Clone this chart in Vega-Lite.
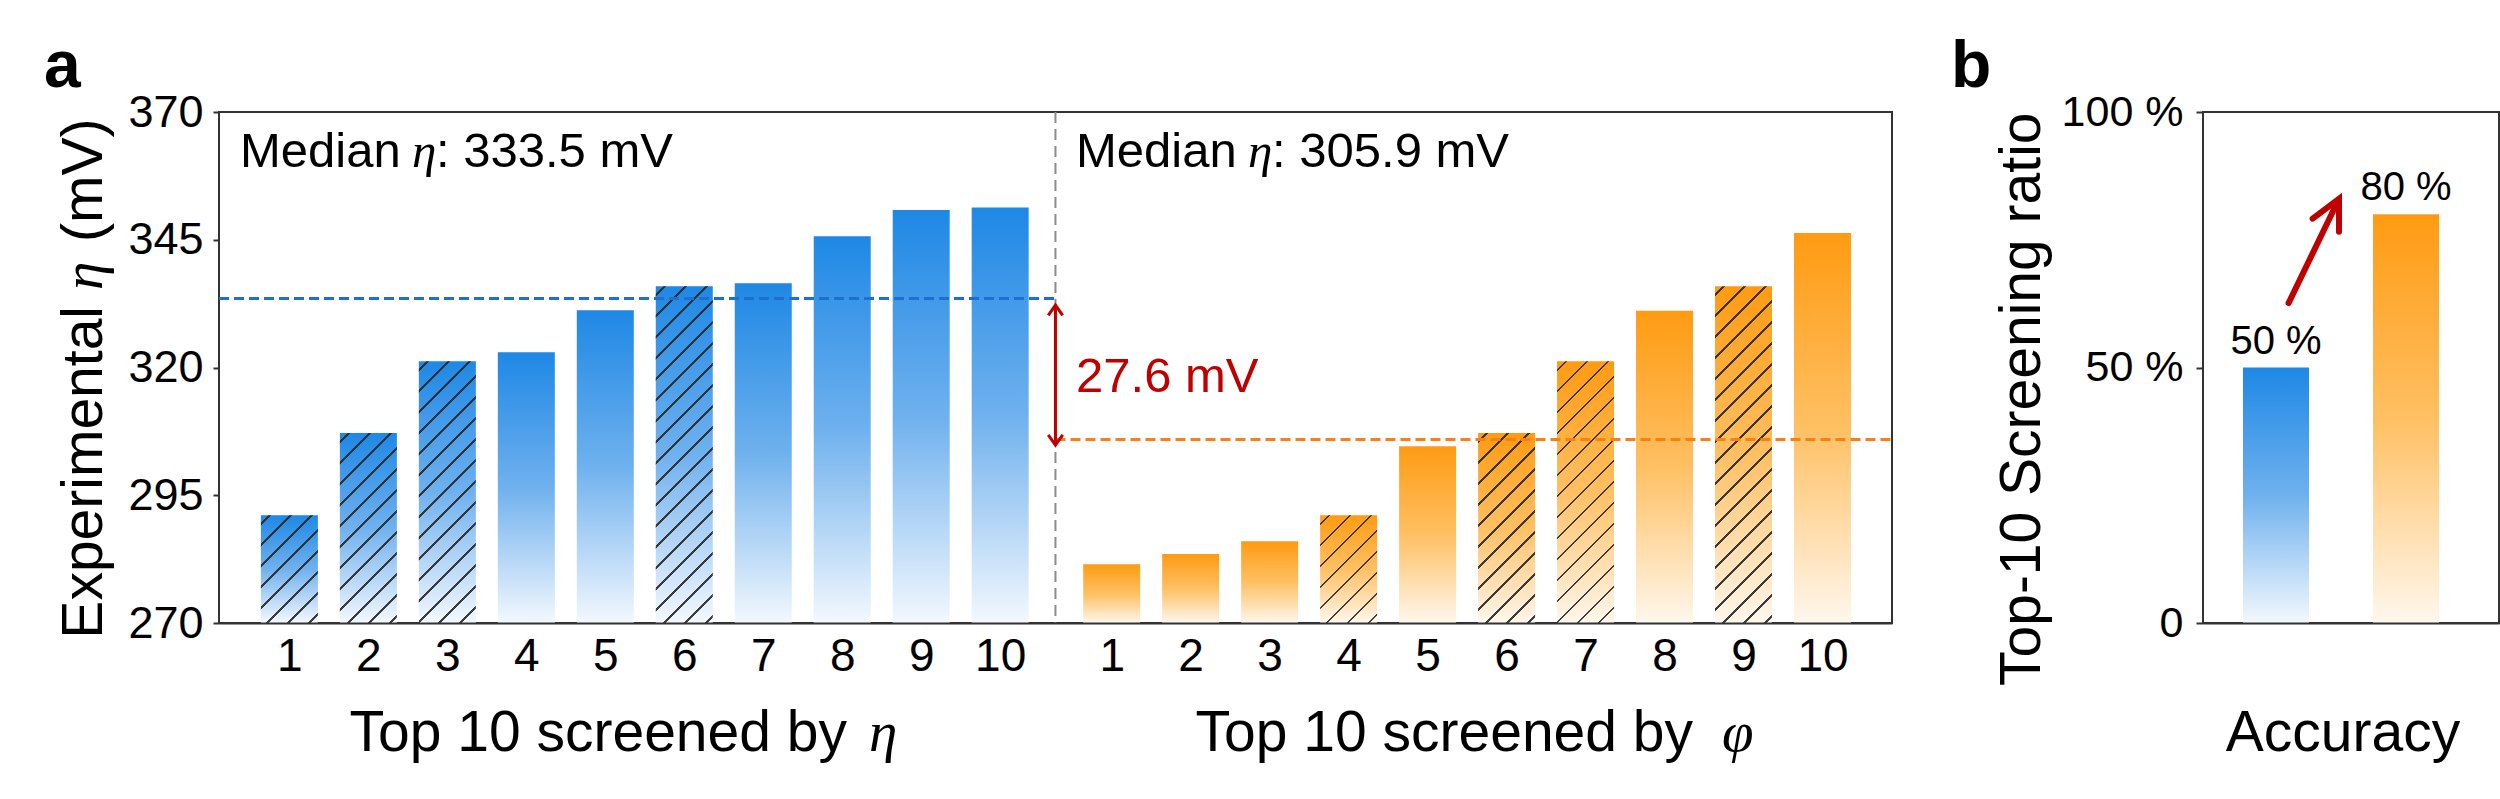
{
  "$schema": "https://vega.github.io/schema/vega-lite/v6.json",
  "background": "white",
  "padding": {"left": 42, "top": 33, "right": 0, "bottom": 0},
  "spacing": 54,
  "config": {
    "font": "Liberation Sans",
    "view": {"stroke": "#333333", "strokeWidth": 2},
    "axis": {"labelFont": "Liberation Sans", "titleFont": "Liberation Sans", "labelColor": "#000000", "titleColor": "#000000", "grid": false, "titleFontWeight": "normal"},
    "text": {"font": "Liberation Sans", "color": "#000000"}
  },
  "hconcat": [
    {
      "width": 1673,
      "height": 511,
      "data": {
        "values": [
          {"screen": "eta", "rank": 1, "eta": 291.1, "overlap": true},
          {"screen": "eta", "rank": 2, "eta": 307.2, "overlap": true},
          {"screen": "eta", "rank": 3, "eta": 321.2, "overlap": true},
          {"screen": "eta", "rank": 4, "eta": 323.0, "overlap": false},
          {"screen": "eta", "rank": 5, "eta": 331.2, "overlap": false},
          {"screen": "eta", "rank": 6, "eta": 335.9, "overlap": true},
          {"screen": "eta", "rank": 7, "eta": 336.5, "overlap": false},
          {"screen": "eta", "rank": 8, "eta": 345.7, "overlap": false},
          {"screen": "eta", "rank": 9, "eta": 350.8, "overlap": false},
          {"screen": "eta", "rank": 10, "eta": 351.3, "overlap": false},
          {"screen": "phi", "rank": 1, "eta": 281.5, "overlap": false},
          {"screen": "phi", "rank": 2, "eta": 283.5, "overlap": false},
          {"screen": "phi", "rank": 3, "eta": 286.0, "overlap": false},
          {"screen": "phi", "rank": 4, "eta": 291.1, "overlap": true},
          {"screen": "phi", "rank": 5, "eta": 304.6, "overlap": false},
          {"screen": "phi", "rank": 6, "eta": 307.2, "overlap": true},
          {"screen": "phi", "rank": 7, "eta": 321.2, "overlap": true},
          {"screen": "phi", "rank": 8, "eta": 331.1, "overlap": false},
          {"screen": "phi", "rank": 9, "eta": 335.9, "overlap": true},
          {"screen": "phi", "rank": 10, "eta": 346.3, "overlap": false}
        ]
      },
      "layer": [
        {
          "transform": [{"filter": "datum.screen === 'eta'"}],
          "encoding": {
            "x": {"field": "rank", "type": "quantitative", "scale": {"domain": [0.172, 21.229], "nice": false, "zero": false},
              "axis": {"orient": "bottom", "values": [1, 2, 3, 4, 5, 6, 7, 8, 9, 10], "format": "d", "ticks": false, "tickSize": 0, "labelPadding": 11, "labelFontSize": 46, "labelFlush": false, "labelOverlap": false, "domain": true, "domainColor": "#333333", "domainWidth": 2, "zindex": 1, "title": null}},
            "y": {"field": "eta", "type": "quantitative", "scale": {"domain": [270, 370], "nice": false, "zero": false},
              "axis": {"orient": "left", "values": [270, 295, 320, 345, 370], "format": "d", "labelFontSize": 45, "tickSize": 6, "tickWidth": 2, "tickColor": "#333333", "labelPadding": 10, "domain": false, "title": null}},
            "y2": {"datum": 270}
          },
          "layer": [
            {"mark": {"type": "bar", "size": 57, "fill": {"gradient": "linear", "x1": 0, "y1": 0, "x2": 0, "y2": 1, "stops": [{"offset": 0, "color": "#1e88e5"}, {"offset": 0.5, "color": "#6fb1ee"}, {"offset": 1, "color": "#f3f8fe"}]}}},
            {"transform": [{"filter": "datum.overlap && datum.eta < 295"}],
             "mark": {"type": "bar", "size": 57, "fill": {"gradient": "linear", "x1": 0, "y1": 0, "x2": 0.6317, "y2": 1.1947, "stops": [
              {"offset": 0, "color": "rgba(40,40,40,0)"},
              {"offset": 0.0469, "color": "rgba(40,40,40,0)"}, {"offset": 0.0469, "color": "rgba(40,40,40,0.9)"}, {"offset": 0.0623, "color": "rgba(40,40,40,0.9)"}, {"offset": 0.0623, "color": "rgba(40,40,40,0)"},
              {"offset": 0.1743, "color": "rgba(40,40,40,0)"}, {"offset": 0.1743, "color": "rgba(40,40,40,0.9)"}, {"offset": 0.1897, "color": "rgba(40,40,40,0.9)"}, {"offset": 0.1897, "color": "rgba(40,40,40,0)"},
              {"offset": 0.3018, "color": "rgba(40,40,40,0)"}, {"offset": 0.3018, "color": "rgba(40,40,40,0.9)"}, {"offset": 0.3172, "color": "rgba(40,40,40,0.9)"}, {"offset": 0.3172, "color": "rgba(40,40,40,0)"},
              {"offset": 0.4292, "color": "rgba(40,40,40,0)"}, {"offset": 0.4292, "color": "rgba(40,40,40,0.9)"}, {"offset": 0.4446, "color": "rgba(40,40,40,0.9)"}, {"offset": 0.4446, "color": "rgba(40,40,40,0)"},
              {"offset": 0.5566, "color": "rgba(40,40,40,0)"}, {"offset": 0.5566, "color": "rgba(40,40,40,0.9)"}, {"offset": 0.5720, "color": "rgba(40,40,40,0.9)"}, {"offset": 0.5720, "color": "rgba(40,40,40,0)"},
              {"offset": 0.6840, "color": "rgba(40,40,40,0)"}, {"offset": 0.6840, "color": "rgba(40,40,40,0.9)"}, {"offset": 0.6995, "color": "rgba(40,40,40,0.9)"}, {"offset": 0.6995, "color": "rgba(40,40,40,0)"},
              {"offset": 0.8115, "color": "rgba(40,40,40,0)"}, {"offset": 0.8115, "color": "rgba(40,40,40,0.9)"}, {"offset": 0.8269, "color": "rgba(40,40,40,0.9)"}, {"offset": 0.8269, "color": "rgba(40,40,40,0)"},
              {"offset": 0.9389, "color": "rgba(40,40,40,0)"}, {"offset": 0.9389, "color": "rgba(40,40,40,0.9)"}, {"offset": 0.9543, "color": "rgba(40,40,40,0.9)"}, {"offset": 0.9543, "color": "rgba(40,40,40,0)"},
              {"offset": 1, "color": "rgba(40,40,40,0)"}]}}},
            {"transform": [{"filter": "datum.overlap && datum.eta > 300 && datum.eta < 310"}],
             "mark": {"type": "bar", "size": 57, "fill": {"gradient": "linear", "x1": 0, "y1": 0, "x2": 0.3576, "y2": 1.1926, "stops": [
              {"offset": 0, "color": "rgba(40,40,40,0)"},
              {"offset": 0.0313, "color": "rgba(40,40,40,0)"}, {"offset": 0.0313, "color": "rgba(40,40,40,0.9)"}, {"offset": 0.0416, "color": "rgba(40,40,40,0.9)"}, {"offset": 0.0416, "color": "rgba(40,40,40,0)"},
              {"offset": 0.1163, "color": "rgba(40,40,40,0)"}, {"offset": 0.1163, "color": "rgba(40,40,40,0.9)"}, {"offset": 0.1266, "color": "rgba(40,40,40,0.9)"}, {"offset": 0.1266, "color": "rgba(40,40,40,0)"},
              {"offset": 0.2013, "color": "rgba(40,40,40,0)"}, {"offset": 0.2013, "color": "rgba(40,40,40,0.9)"}, {"offset": 0.2115, "color": "rgba(40,40,40,0.9)"}, {"offset": 0.2115, "color": "rgba(40,40,40,0)"},
              {"offset": 0.2863, "color": "rgba(40,40,40,0)"}, {"offset": 0.2863, "color": "rgba(40,40,40,0.9)"}, {"offset": 0.2965, "color": "rgba(40,40,40,0.9)"}, {"offset": 0.2965, "color": "rgba(40,40,40,0)"},
              {"offset": 0.3712, "color": "rgba(40,40,40,0)"}, {"offset": 0.3712, "color": "rgba(40,40,40,0.9)"}, {"offset": 0.3815, "color": "rgba(40,40,40,0.9)"}, {"offset": 0.3815, "color": "rgba(40,40,40,0)"},
              {"offset": 0.4562, "color": "rgba(40,40,40,0)"}, {"offset": 0.4562, "color": "rgba(40,40,40,0.9)"}, {"offset": 0.4665, "color": "rgba(40,40,40,0.9)"}, {"offset": 0.4665, "color": "rgba(40,40,40,0)"},
              {"offset": 0.5412, "color": "rgba(40,40,40,0)"}, {"offset": 0.5412, "color": "rgba(40,40,40,0.9)"}, {"offset": 0.5515, "color": "rgba(40,40,40,0.9)"}, {"offset": 0.5515, "color": "rgba(40,40,40,0)"},
              {"offset": 0.6262, "color": "rgba(40,40,40,0)"}, {"offset": 0.6262, "color": "rgba(40,40,40,0.9)"}, {"offset": 0.6365, "color": "rgba(40,40,40,0.9)"}, {"offset": 0.6365, "color": "rgba(40,40,40,0)"},
              {"offset": 0.7112, "color": "rgba(40,40,40,0)"}, {"offset": 0.7112, "color": "rgba(40,40,40,0.9)"}, {"offset": 0.7215, "color": "rgba(40,40,40,0.9)"}, {"offset": 0.7215, "color": "rgba(40,40,40,0)"},
              {"offset": 0.7962, "color": "rgba(40,40,40,0)"}, {"offset": 0.7962, "color": "rgba(40,40,40,0.9)"}, {"offset": 0.8065, "color": "rgba(40,40,40,0.9)"}, {"offset": 0.8065, "color": "rgba(40,40,40,0)"},
              {"offset": 0.8812, "color": "rgba(40,40,40,0)"}, {"offset": 0.8812, "color": "rgba(40,40,40,0.9)"}, {"offset": 0.8914, "color": "rgba(40,40,40,0.9)"}, {"offset": 0.8914, "color": "rgba(40,40,40,0)"},
              {"offset": 0.9662, "color": "rgba(40,40,40,0)"}, {"offset": 0.9662, "color": "rgba(40,40,40,0.9)"}, {"offset": 0.9764, "color": "rgba(40,40,40,0.9)"}, {"offset": 0.9764, "color": "rgba(40,40,40,0)"},
              {"offset": 1, "color": "rgba(40,40,40,0)"}]}}},
            {"transform": [{"filter": "datum.overlap && datum.eta > 315 && datum.eta < 325"}],
             "mark": {"type": "bar", "size": 57, "fill": {"gradient": "linear", "x1": 0, "y1": 0, "x2": 0.2533, "y2": 1.1627, "stops": [
              {"offset": 0, "color": "rgba(40,40,40,0)"},
              {"offset": 0.0243, "color": "rgba(40,40,40,0)"}, {"offset": 0.0243, "color": "rgba(40,40,40,0.9)"}, {"offset": 0.0322, "color": "rgba(40,40,40,0.9)"}, {"offset": 0.0322, "color": "rgba(40,40,40,0)"},
              {"offset": 0.0902, "color": "rgba(40,40,40,0)"}, {"offset": 0.0902, "color": "rgba(40,40,40,0.9)"}, {"offset": 0.0981, "color": "rgba(40,40,40,0.9)"}, {"offset": 0.0981, "color": "rgba(40,40,40,0)"},
              {"offset": 0.1561, "color": "rgba(40,40,40,0)"}, {"offset": 0.1561, "color": "rgba(40,40,40,0.9)"}, {"offset": 0.1640, "color": "rgba(40,40,40,0.9)"}, {"offset": 0.1640, "color": "rgba(40,40,40,0)"},
              {"offset": 0.2220, "color": "rgba(40,40,40,0)"}, {"offset": 0.2220, "color": "rgba(40,40,40,0.9)"}, {"offset": 0.2300, "color": "rgba(40,40,40,0.9)"}, {"offset": 0.2300, "color": "rgba(40,40,40,0)"},
              {"offset": 0.2879, "color": "rgba(40,40,40,0)"}, {"offset": 0.2879, "color": "rgba(40,40,40,0.9)"}, {"offset": 0.2959, "color": "rgba(40,40,40,0.9)"}, {"offset": 0.2959, "color": "rgba(40,40,40,0)"},
              {"offset": 0.3538, "color": "rgba(40,40,40,0)"}, {"offset": 0.3538, "color": "rgba(40,40,40,0.9)"}, {"offset": 0.3618, "color": "rgba(40,40,40,0.9)"}, {"offset": 0.3618, "color": "rgba(40,40,40,0)"},
              {"offset": 0.4197, "color": "rgba(40,40,40,0)"}, {"offset": 0.4197, "color": "rgba(40,40,40,0.9)"}, {"offset": 0.4277, "color": "rgba(40,40,40,0.9)"}, {"offset": 0.4277, "color": "rgba(40,40,40,0)"},
              {"offset": 0.4856, "color": "rgba(40,40,40,0)"}, {"offset": 0.4856, "color": "rgba(40,40,40,0.9)"}, {"offset": 0.4936, "color": "rgba(40,40,40,0.9)"}, {"offset": 0.4936, "color": "rgba(40,40,40,0)"},
              {"offset": 0.5515, "color": "rgba(40,40,40,0)"}, {"offset": 0.5515, "color": "rgba(40,40,40,0.9)"}, {"offset": 0.5595, "color": "rgba(40,40,40,0.9)"}, {"offset": 0.5595, "color": "rgba(40,40,40,0)"},
              {"offset": 0.6174, "color": "rgba(40,40,40,0)"}, {"offset": 0.6174, "color": "rgba(40,40,40,0.9)"}, {"offset": 0.6254, "color": "rgba(40,40,40,0.9)"}, {"offset": 0.6254, "color": "rgba(40,40,40,0)"},
              {"offset": 0.6833, "color": "rgba(40,40,40,0)"}, {"offset": 0.6833, "color": "rgba(40,40,40,0.9)"}, {"offset": 0.6913, "color": "rgba(40,40,40,0.9)"}, {"offset": 0.6913, "color": "rgba(40,40,40,0)"},
              {"offset": 0.7492, "color": "rgba(40,40,40,0)"}, {"offset": 0.7492, "color": "rgba(40,40,40,0.9)"}, {"offset": 0.7572, "color": "rgba(40,40,40,0.9)"}, {"offset": 0.7572, "color": "rgba(40,40,40,0)"},
              {"offset": 0.8151, "color": "rgba(40,40,40,0)"}, {"offset": 0.8151, "color": "rgba(40,40,40,0.9)"}, {"offset": 0.8231, "color": "rgba(40,40,40,0.9)"}, {"offset": 0.8231, "color": "rgba(40,40,40,0)"},
              {"offset": 0.8810, "color": "rgba(40,40,40,0)"}, {"offset": 0.8810, "color": "rgba(40,40,40,0.9)"}, {"offset": 0.8890, "color": "rgba(40,40,40,0.9)"}, {"offset": 0.8890, "color": "rgba(40,40,40,0)"},
              {"offset": 0.9470, "color": "rgba(40,40,40,0)"}, {"offset": 0.9470, "color": "rgba(40,40,40,0.9)"}, {"offset": 0.9549, "color": "rgba(40,40,40,0.9)"}, {"offset": 0.9549, "color": "rgba(40,40,40,0)"},
              {"offset": 1, "color": "rgba(40,40,40,0)"}]}}},
            {"transform": [{"filter": "datum.overlap && datum.eta > 330"}],
             "mark": {"type": "bar", "size": 57, "fill": {"gradient": "linear", "x1": 0, "y1": 0, "x2": 0.1924, "y2": 1.1367, "stops": [
              {"offset": 0, "color": "rgba(40,40,40,0)"},
              {"offset": 0.0196, "color": "rgba(40,40,40,0)"}, {"offset": 0.0196, "color": "rgba(40,40,40,0.9)"}, {"offset": 0.0261, "color": "rgba(40,40,40,0.9)"}, {"offset": 0.0261, "color": "rgba(40,40,40,0)"},
              {"offset": 0.0730, "color": "rgba(40,40,40,0)"}, {"offset": 0.0730, "color": "rgba(40,40,40,0.9)"}, {"offset": 0.0794, "color": "rgba(40,40,40,0.9)"}, {"offset": 0.0794, "color": "rgba(40,40,40,0)"},
              {"offset": 0.1263, "color": "rgba(40,40,40,0)"}, {"offset": 0.1263, "color": "rgba(40,40,40,0.9)"}, {"offset": 0.1327, "color": "rgba(40,40,40,0.9)"}, {"offset": 0.1327, "color": "rgba(40,40,40,0)"},
              {"offset": 0.1796, "color": "rgba(40,40,40,0)"}, {"offset": 0.1796, "color": "rgba(40,40,40,0.9)"}, {"offset": 0.1861, "color": "rgba(40,40,40,0.9)"}, {"offset": 0.1861, "color": "rgba(40,40,40,0)"},
              {"offset": 0.2330, "color": "rgba(40,40,40,0)"}, {"offset": 0.2330, "color": "rgba(40,40,40,0.9)"}, {"offset": 0.2394, "color": "rgba(40,40,40,0.9)"}, {"offset": 0.2394, "color": "rgba(40,40,40,0)"},
              {"offset": 0.2863, "color": "rgba(40,40,40,0)"}, {"offset": 0.2863, "color": "rgba(40,40,40,0.9)"}, {"offset": 0.2927, "color": "rgba(40,40,40,0.9)"}, {"offset": 0.2927, "color": "rgba(40,40,40,0)"},
              {"offset": 0.3396, "color": "rgba(40,40,40,0)"}, {"offset": 0.3396, "color": "rgba(40,40,40,0.9)"}, {"offset": 0.3461, "color": "rgba(40,40,40,0.9)"}, {"offset": 0.3461, "color": "rgba(40,40,40,0)"},
              {"offset": 0.3930, "color": "rgba(40,40,40,0)"}, {"offset": 0.3930, "color": "rgba(40,40,40,0.9)"}, {"offset": 0.3994, "color": "rgba(40,40,40,0.9)"}, {"offset": 0.3994, "color": "rgba(40,40,40,0)"},
              {"offset": 0.4463, "color": "rgba(40,40,40,0)"}, {"offset": 0.4463, "color": "rgba(40,40,40,0.9)"}, {"offset": 0.4528, "color": "rgba(40,40,40,0.9)"}, {"offset": 0.4528, "color": "rgba(40,40,40,0)"},
              {"offset": 0.4996, "color": "rgba(40,40,40,0)"}, {"offset": 0.4996, "color": "rgba(40,40,40,0.9)"}, {"offset": 0.5061, "color": "rgba(40,40,40,0.9)"}, {"offset": 0.5061, "color": "rgba(40,40,40,0)"},
              {"offset": 0.5530, "color": "rgba(40,40,40,0)"}, {"offset": 0.5530, "color": "rgba(40,40,40,0.9)"}, {"offset": 0.5594, "color": "rgba(40,40,40,0.9)"}, {"offset": 0.5594, "color": "rgba(40,40,40,0)"},
              {"offset": 0.6063, "color": "rgba(40,40,40,0)"}, {"offset": 0.6063, "color": "rgba(40,40,40,0.9)"}, {"offset": 0.6128, "color": "rgba(40,40,40,0.9)"}, {"offset": 0.6128, "color": "rgba(40,40,40,0)"},
              {"offset": 0.6596, "color": "rgba(40,40,40,0)"}, {"offset": 0.6596, "color": "rgba(40,40,40,0.9)"}, {"offset": 0.6661, "color": "rgba(40,40,40,0.9)"}, {"offset": 0.6661, "color": "rgba(40,40,40,0)"},
              {"offset": 0.7130, "color": "rgba(40,40,40,0)"}, {"offset": 0.7130, "color": "rgba(40,40,40,0.9)"}, {"offset": 0.7194, "color": "rgba(40,40,40,0.9)"}, {"offset": 0.7194, "color": "rgba(40,40,40,0)"},
              {"offset": 0.7663, "color": "rgba(40,40,40,0)"}, {"offset": 0.7663, "color": "rgba(40,40,40,0.9)"}, {"offset": 0.7728, "color": "rgba(40,40,40,0.9)"}, {"offset": 0.7728, "color": "rgba(40,40,40,0)"},
              {"offset": 0.8196, "color": "rgba(40,40,40,0)"}, {"offset": 0.8196, "color": "rgba(40,40,40,0.9)"}, {"offset": 0.8261, "color": "rgba(40,40,40,0.9)"}, {"offset": 0.8261, "color": "rgba(40,40,40,0)"},
              {"offset": 0.8730, "color": "rgba(40,40,40,0)"}, {"offset": 0.8730, "color": "rgba(40,40,40,0.9)"}, {"offset": 0.8794, "color": "rgba(40,40,40,0.9)"}, {"offset": 0.8794, "color": "rgba(40,40,40,0)"},
              {"offset": 0.9263, "color": "rgba(40,40,40,0)"}, {"offset": 0.9263, "color": "rgba(40,40,40,0.9)"}, {"offset": 0.9327, "color": "rgba(40,40,40,0.9)"}, {"offset": 0.9327, "color": "rgba(40,40,40,0)"},
              {"offset": 0.9796, "color": "rgba(40,40,40,0)"}, {"offset": 0.9796, "color": "rgba(40,40,40,0.9)"}, {"offset": 0.9861, "color": "rgba(40,40,40,0.9)"}, {"offset": 0.9861, "color": "rgba(40,40,40,0)"},
              {"offset": 1, "color": "rgba(40,40,40,0)"}]}}}
          ]
        },
        {
          "transform": [{"filter": "datum.screen === 'phi'"}],
          "encoding": {
            "x": {"field": "rank", "type": "quantitative", "scale": {"domain": [-10.24, 10.817], "nice": false, "zero": false},
              "axis": {"orient": "bottom", "values": [1, 2, 3, 4, 5, 6, 7, 8, 9, 10], "format": "d", "ticks": false, "tickSize": 0, "labelPadding": 11, "labelFontSize": 46, "labelFlush": false, "labelOverlap": false, "domain": false, "title": null}},
            "y": {"field": "eta", "type": "quantitative", "scale": {"domain": [270, 370], "nice": false, "zero": false}, "axis": null},
            "y2": {"datum": 270}
          },
          "layer": [
            {"mark": {"type": "bar", "size": 57, "fill": {"gradient": "linear", "x1": 0, "y1": 0, "x2": 0, "y2": 1, "stops": [{"offset": 0, "color": "#ff9b12"}, {"offset": 0.5, "color": "#ffc063"}, {"offset": 1, "color": "#fff7ed"}]}}},
            {"transform": [{"filter": "datum.overlap && datum.eta < 295"}],
             "mark": {"type": "bar", "size": 57, "fill": {"gradient": "linear", "x1": 0, "y1": 0, "x2": 0.6317, "y2": 1.1947, "stops": [
              {"offset": 0, "color": "rgba(40,40,40,0)"},
              {"offset": 0.0469, "color": "rgba(40,40,40,0)"}, {"offset": 0.0469, "color": "rgba(40,40,40,0.9)"}, {"offset": 0.0623, "color": "rgba(40,40,40,0.9)"}, {"offset": 0.0623, "color": "rgba(40,40,40,0)"},
              {"offset": 0.1743, "color": "rgba(40,40,40,0)"}, {"offset": 0.1743, "color": "rgba(40,40,40,0.9)"}, {"offset": 0.1897, "color": "rgba(40,40,40,0.9)"}, {"offset": 0.1897, "color": "rgba(40,40,40,0)"},
              {"offset": 0.3018, "color": "rgba(40,40,40,0)"}, {"offset": 0.3018, "color": "rgba(40,40,40,0.9)"}, {"offset": 0.3172, "color": "rgba(40,40,40,0.9)"}, {"offset": 0.3172, "color": "rgba(40,40,40,0)"},
              {"offset": 0.4292, "color": "rgba(40,40,40,0)"}, {"offset": 0.4292, "color": "rgba(40,40,40,0.9)"}, {"offset": 0.4446, "color": "rgba(40,40,40,0.9)"}, {"offset": 0.4446, "color": "rgba(40,40,40,0)"},
              {"offset": 0.5566, "color": "rgba(40,40,40,0)"}, {"offset": 0.5566, "color": "rgba(40,40,40,0.9)"}, {"offset": 0.5720, "color": "rgba(40,40,40,0.9)"}, {"offset": 0.5720, "color": "rgba(40,40,40,0)"},
              {"offset": 0.6840, "color": "rgba(40,40,40,0)"}, {"offset": 0.6840, "color": "rgba(40,40,40,0.9)"}, {"offset": 0.6995, "color": "rgba(40,40,40,0.9)"}, {"offset": 0.6995, "color": "rgba(40,40,40,0)"},
              {"offset": 0.8115, "color": "rgba(40,40,40,0)"}, {"offset": 0.8115, "color": "rgba(40,40,40,0.9)"}, {"offset": 0.8269, "color": "rgba(40,40,40,0.9)"}, {"offset": 0.8269, "color": "rgba(40,40,40,0)"},
              {"offset": 0.9389, "color": "rgba(40,40,40,0)"}, {"offset": 0.9389, "color": "rgba(40,40,40,0.9)"}, {"offset": 0.9543, "color": "rgba(40,40,40,0.9)"}, {"offset": 0.9543, "color": "rgba(40,40,40,0)"},
              {"offset": 1, "color": "rgba(40,40,40,0)"}]}}},
            {"transform": [{"filter": "datum.overlap && datum.eta > 300 && datum.eta < 310"}],
             "mark": {"type": "bar", "size": 57, "fill": {"gradient": "linear", "x1": 0, "y1": 0, "x2": 0.3576, "y2": 1.1926, "stops": [
              {"offset": 0, "color": "rgba(40,40,40,0)"},
              {"offset": 0.0313, "color": "rgba(40,40,40,0)"}, {"offset": 0.0313, "color": "rgba(40,40,40,0.9)"}, {"offset": 0.0416, "color": "rgba(40,40,40,0.9)"}, {"offset": 0.0416, "color": "rgba(40,40,40,0)"},
              {"offset": 0.1163, "color": "rgba(40,40,40,0)"}, {"offset": 0.1163, "color": "rgba(40,40,40,0.9)"}, {"offset": 0.1266, "color": "rgba(40,40,40,0.9)"}, {"offset": 0.1266, "color": "rgba(40,40,40,0)"},
              {"offset": 0.2013, "color": "rgba(40,40,40,0)"}, {"offset": 0.2013, "color": "rgba(40,40,40,0.9)"}, {"offset": 0.2115, "color": "rgba(40,40,40,0.9)"}, {"offset": 0.2115, "color": "rgba(40,40,40,0)"},
              {"offset": 0.2863, "color": "rgba(40,40,40,0)"}, {"offset": 0.2863, "color": "rgba(40,40,40,0.9)"}, {"offset": 0.2965, "color": "rgba(40,40,40,0.9)"}, {"offset": 0.2965, "color": "rgba(40,40,40,0)"},
              {"offset": 0.3712, "color": "rgba(40,40,40,0)"}, {"offset": 0.3712, "color": "rgba(40,40,40,0.9)"}, {"offset": 0.3815, "color": "rgba(40,40,40,0.9)"}, {"offset": 0.3815, "color": "rgba(40,40,40,0)"},
              {"offset": 0.4562, "color": "rgba(40,40,40,0)"}, {"offset": 0.4562, "color": "rgba(40,40,40,0.9)"}, {"offset": 0.4665, "color": "rgba(40,40,40,0.9)"}, {"offset": 0.4665, "color": "rgba(40,40,40,0)"},
              {"offset": 0.5412, "color": "rgba(40,40,40,0)"}, {"offset": 0.5412, "color": "rgba(40,40,40,0.9)"}, {"offset": 0.5515, "color": "rgba(40,40,40,0.9)"}, {"offset": 0.5515, "color": "rgba(40,40,40,0)"},
              {"offset": 0.6262, "color": "rgba(40,40,40,0)"}, {"offset": 0.6262, "color": "rgba(40,40,40,0.9)"}, {"offset": 0.6365, "color": "rgba(40,40,40,0.9)"}, {"offset": 0.6365, "color": "rgba(40,40,40,0)"},
              {"offset": 0.7112, "color": "rgba(40,40,40,0)"}, {"offset": 0.7112, "color": "rgba(40,40,40,0.9)"}, {"offset": 0.7215, "color": "rgba(40,40,40,0.9)"}, {"offset": 0.7215, "color": "rgba(40,40,40,0)"},
              {"offset": 0.7962, "color": "rgba(40,40,40,0)"}, {"offset": 0.7962, "color": "rgba(40,40,40,0.9)"}, {"offset": 0.8065, "color": "rgba(40,40,40,0.9)"}, {"offset": 0.8065, "color": "rgba(40,40,40,0)"},
              {"offset": 0.8812, "color": "rgba(40,40,40,0)"}, {"offset": 0.8812, "color": "rgba(40,40,40,0.9)"}, {"offset": 0.8914, "color": "rgba(40,40,40,0.9)"}, {"offset": 0.8914, "color": "rgba(40,40,40,0)"},
              {"offset": 0.9662, "color": "rgba(40,40,40,0)"}, {"offset": 0.9662, "color": "rgba(40,40,40,0.9)"}, {"offset": 0.9764, "color": "rgba(40,40,40,0.9)"}, {"offset": 0.9764, "color": "rgba(40,40,40,0)"},
              {"offset": 1, "color": "rgba(40,40,40,0)"}]}}},
            {"transform": [{"filter": "datum.overlap && datum.eta > 315 && datum.eta < 325"}],
             "mark": {"type": "bar", "size": 57, "fill": {"gradient": "linear", "x1": 0, "y1": 0, "x2": 0.2533, "y2": 1.1627, "stops": [
              {"offset": 0, "color": "rgba(40,40,40,0)"},
              {"offset": 0.0243, "color": "rgba(40,40,40,0)"}, {"offset": 0.0243, "color": "rgba(40,40,40,0.9)"}, {"offset": 0.0322, "color": "rgba(40,40,40,0.9)"}, {"offset": 0.0322, "color": "rgba(40,40,40,0)"},
              {"offset": 0.0902, "color": "rgba(40,40,40,0)"}, {"offset": 0.0902, "color": "rgba(40,40,40,0.9)"}, {"offset": 0.0981, "color": "rgba(40,40,40,0.9)"}, {"offset": 0.0981, "color": "rgba(40,40,40,0)"},
              {"offset": 0.1561, "color": "rgba(40,40,40,0)"}, {"offset": 0.1561, "color": "rgba(40,40,40,0.9)"}, {"offset": 0.1640, "color": "rgba(40,40,40,0.9)"}, {"offset": 0.1640, "color": "rgba(40,40,40,0)"},
              {"offset": 0.2220, "color": "rgba(40,40,40,0)"}, {"offset": 0.2220, "color": "rgba(40,40,40,0.9)"}, {"offset": 0.2300, "color": "rgba(40,40,40,0.9)"}, {"offset": 0.2300, "color": "rgba(40,40,40,0)"},
              {"offset": 0.2879, "color": "rgba(40,40,40,0)"}, {"offset": 0.2879, "color": "rgba(40,40,40,0.9)"}, {"offset": 0.2959, "color": "rgba(40,40,40,0.9)"}, {"offset": 0.2959, "color": "rgba(40,40,40,0)"},
              {"offset": 0.3538, "color": "rgba(40,40,40,0)"}, {"offset": 0.3538, "color": "rgba(40,40,40,0.9)"}, {"offset": 0.3618, "color": "rgba(40,40,40,0.9)"}, {"offset": 0.3618, "color": "rgba(40,40,40,0)"},
              {"offset": 0.4197, "color": "rgba(40,40,40,0)"}, {"offset": 0.4197, "color": "rgba(40,40,40,0.9)"}, {"offset": 0.4277, "color": "rgba(40,40,40,0.9)"}, {"offset": 0.4277, "color": "rgba(40,40,40,0)"},
              {"offset": 0.4856, "color": "rgba(40,40,40,0)"}, {"offset": 0.4856, "color": "rgba(40,40,40,0.9)"}, {"offset": 0.4936, "color": "rgba(40,40,40,0.9)"}, {"offset": 0.4936, "color": "rgba(40,40,40,0)"},
              {"offset": 0.5515, "color": "rgba(40,40,40,0)"}, {"offset": 0.5515, "color": "rgba(40,40,40,0.9)"}, {"offset": 0.5595, "color": "rgba(40,40,40,0.9)"}, {"offset": 0.5595, "color": "rgba(40,40,40,0)"},
              {"offset": 0.6174, "color": "rgba(40,40,40,0)"}, {"offset": 0.6174, "color": "rgba(40,40,40,0.9)"}, {"offset": 0.6254, "color": "rgba(40,40,40,0.9)"}, {"offset": 0.6254, "color": "rgba(40,40,40,0)"},
              {"offset": 0.6833, "color": "rgba(40,40,40,0)"}, {"offset": 0.6833, "color": "rgba(40,40,40,0.9)"}, {"offset": 0.6913, "color": "rgba(40,40,40,0.9)"}, {"offset": 0.6913, "color": "rgba(40,40,40,0)"},
              {"offset": 0.7492, "color": "rgba(40,40,40,0)"}, {"offset": 0.7492, "color": "rgba(40,40,40,0.9)"}, {"offset": 0.7572, "color": "rgba(40,40,40,0.9)"}, {"offset": 0.7572, "color": "rgba(40,40,40,0)"},
              {"offset": 0.8151, "color": "rgba(40,40,40,0)"}, {"offset": 0.8151, "color": "rgba(40,40,40,0.9)"}, {"offset": 0.8231, "color": "rgba(40,40,40,0.9)"}, {"offset": 0.8231, "color": "rgba(40,40,40,0)"},
              {"offset": 0.8810, "color": "rgba(40,40,40,0)"}, {"offset": 0.8810, "color": "rgba(40,40,40,0.9)"}, {"offset": 0.8890, "color": "rgba(40,40,40,0.9)"}, {"offset": 0.8890, "color": "rgba(40,40,40,0)"},
              {"offset": 0.9470, "color": "rgba(40,40,40,0)"}, {"offset": 0.9470, "color": "rgba(40,40,40,0.9)"}, {"offset": 0.9549, "color": "rgba(40,40,40,0.9)"}, {"offset": 0.9549, "color": "rgba(40,40,40,0)"},
              {"offset": 1, "color": "rgba(40,40,40,0)"}]}}},
            {"transform": [{"filter": "datum.overlap && datum.eta > 330"}],
             "mark": {"type": "bar", "size": 57, "fill": {"gradient": "linear", "x1": 0, "y1": 0, "x2": 0.1924, "y2": 1.1367, "stops": [
              {"offset": 0, "color": "rgba(40,40,40,0)"},
              {"offset": 0.0196, "color": "rgba(40,40,40,0)"}, {"offset": 0.0196, "color": "rgba(40,40,40,0.9)"}, {"offset": 0.0261, "color": "rgba(40,40,40,0.9)"}, {"offset": 0.0261, "color": "rgba(40,40,40,0)"},
              {"offset": 0.0730, "color": "rgba(40,40,40,0)"}, {"offset": 0.0730, "color": "rgba(40,40,40,0.9)"}, {"offset": 0.0794, "color": "rgba(40,40,40,0.9)"}, {"offset": 0.0794, "color": "rgba(40,40,40,0)"},
              {"offset": 0.1263, "color": "rgba(40,40,40,0)"}, {"offset": 0.1263, "color": "rgba(40,40,40,0.9)"}, {"offset": 0.1327, "color": "rgba(40,40,40,0.9)"}, {"offset": 0.1327, "color": "rgba(40,40,40,0)"},
              {"offset": 0.1796, "color": "rgba(40,40,40,0)"}, {"offset": 0.1796, "color": "rgba(40,40,40,0.9)"}, {"offset": 0.1861, "color": "rgba(40,40,40,0.9)"}, {"offset": 0.1861, "color": "rgba(40,40,40,0)"},
              {"offset": 0.2330, "color": "rgba(40,40,40,0)"}, {"offset": 0.2330, "color": "rgba(40,40,40,0.9)"}, {"offset": 0.2394, "color": "rgba(40,40,40,0.9)"}, {"offset": 0.2394, "color": "rgba(40,40,40,0)"},
              {"offset": 0.2863, "color": "rgba(40,40,40,0)"}, {"offset": 0.2863, "color": "rgba(40,40,40,0.9)"}, {"offset": 0.2927, "color": "rgba(40,40,40,0.9)"}, {"offset": 0.2927, "color": "rgba(40,40,40,0)"},
              {"offset": 0.3396, "color": "rgba(40,40,40,0)"}, {"offset": 0.3396, "color": "rgba(40,40,40,0.9)"}, {"offset": 0.3461, "color": "rgba(40,40,40,0.9)"}, {"offset": 0.3461, "color": "rgba(40,40,40,0)"},
              {"offset": 0.3930, "color": "rgba(40,40,40,0)"}, {"offset": 0.3930, "color": "rgba(40,40,40,0.9)"}, {"offset": 0.3994, "color": "rgba(40,40,40,0.9)"}, {"offset": 0.3994, "color": "rgba(40,40,40,0)"},
              {"offset": 0.4463, "color": "rgba(40,40,40,0)"}, {"offset": 0.4463, "color": "rgba(40,40,40,0.9)"}, {"offset": 0.4528, "color": "rgba(40,40,40,0.9)"}, {"offset": 0.4528, "color": "rgba(40,40,40,0)"},
              {"offset": 0.4996, "color": "rgba(40,40,40,0)"}, {"offset": 0.4996, "color": "rgba(40,40,40,0.9)"}, {"offset": 0.5061, "color": "rgba(40,40,40,0.9)"}, {"offset": 0.5061, "color": "rgba(40,40,40,0)"},
              {"offset": 0.5530, "color": "rgba(40,40,40,0)"}, {"offset": 0.5530, "color": "rgba(40,40,40,0.9)"}, {"offset": 0.5594, "color": "rgba(40,40,40,0.9)"}, {"offset": 0.5594, "color": "rgba(40,40,40,0)"},
              {"offset": 0.6063, "color": "rgba(40,40,40,0)"}, {"offset": 0.6063, "color": "rgba(40,40,40,0.9)"}, {"offset": 0.6128, "color": "rgba(40,40,40,0.9)"}, {"offset": 0.6128, "color": "rgba(40,40,40,0)"},
              {"offset": 0.6596, "color": "rgba(40,40,40,0)"}, {"offset": 0.6596, "color": "rgba(40,40,40,0.9)"}, {"offset": 0.6661, "color": "rgba(40,40,40,0.9)"}, {"offset": 0.6661, "color": "rgba(40,40,40,0)"},
              {"offset": 0.7130, "color": "rgba(40,40,40,0)"}, {"offset": 0.7130, "color": "rgba(40,40,40,0.9)"}, {"offset": 0.7194, "color": "rgba(40,40,40,0.9)"}, {"offset": 0.7194, "color": "rgba(40,40,40,0)"},
              {"offset": 0.7663, "color": "rgba(40,40,40,0)"}, {"offset": 0.7663, "color": "rgba(40,40,40,0.9)"}, {"offset": 0.7728, "color": "rgba(40,40,40,0.9)"}, {"offset": 0.7728, "color": "rgba(40,40,40,0)"},
              {"offset": 0.8196, "color": "rgba(40,40,40,0)"}, {"offset": 0.8196, "color": "rgba(40,40,40,0.9)"}, {"offset": 0.8261, "color": "rgba(40,40,40,0.9)"}, {"offset": 0.8261, "color": "rgba(40,40,40,0)"},
              {"offset": 0.8730, "color": "rgba(40,40,40,0)"}, {"offset": 0.8730, "color": "rgba(40,40,40,0.9)"}, {"offset": 0.8794, "color": "rgba(40,40,40,0.9)"}, {"offset": 0.8794, "color": "rgba(40,40,40,0)"},
              {"offset": 0.9263, "color": "rgba(40,40,40,0)"}, {"offset": 0.9263, "color": "rgba(40,40,40,0.9)"}, {"offset": 0.9327, "color": "rgba(40,40,40,0.9)"}, {"offset": 0.9327, "color": "rgba(40,40,40,0)"},
              {"offset": 0.9796, "color": "rgba(40,40,40,0)"}, {"offset": 0.9796, "color": "rgba(40,40,40,0.9)"}, {"offset": 0.9861, "color": "rgba(40,40,40,0.9)"}, {"offset": 0.9861, "color": "rgba(40,40,40,0)"},
              {"offset": 1, "color": "rgba(40,40,40,0)"}]}}}
          ]
        },
        {
          "data": {"values": [{}]},
          "layer": [
            {"mark": {"type": "rule", "color": "#8c8c8c", "strokeWidth": 2, "strokeDash": [11, 6]},
             "encoding": {"x": {"datum": 10.70, "type": "quantitative", "scale": {"domain": [0.172, 21.229], "nice": false, "zero": false}, "axis": null}}},
            {"mark": {"type": "rule", "color": "#1f6fd1", "strokeWidth": 3, "strokeDash": [10, 5]},
             "encoding": {"x": {"datum": 0.172, "type": "quantitative", "scale": {"domain": [0.172, 21.229], "nice": false, "zero": false}, "axis": null}, "x2": {"datum": 10.70},
               "y": {"datum": 333.5, "type": "quantitative", "scale": {"domain": [270, 370], "nice": false, "zero": false}, "axis": null}}},
            {"mark": {"type": "rule", "color": "#ff7f0e", "strokeWidth": 3, "strokeDash": [10, 5]},
             "encoding": {"x": {"datum": 10.70, "type": "quantitative", "scale": {"domain": [0.172, 21.229], "nice": false, "zero": false}, "axis": null}, "x2": {"datum": 21.229},
               "y": {"datum": 305.9, "type": "quantitative", "scale": {"domain": [270, 370], "nice": false, "zero": false}, "axis": null}}},
            {"mark": {"type": "rule", "color": "#c00000", "strokeWidth": 3},
             "encoding": {"x": {"datum": 10.70, "type": "quantitative", "scale": {"domain": [0.172, 21.229], "nice": false, "zero": false}, "axis": null},
               "y": {"datum": 332.2, "type": "quantitative", "scale": {"domain": [270, 370], "nice": false, "zero": false}, "axis": null}, "y2": {"datum": 304.8}}},
            {"mark": {"type": "point", "shape": "M -0.7 1 L 0 0 L 0.7 1", "size": 425, "filled": false, "stroke": "#c00000", "strokeWidth": 3, "opacity": 1},
             "encoding": {"x": {"datum": 10.70, "type": "quantitative", "scale": {"domain": [0.172, 21.229], "nice": false, "zero": false}, "axis": null},
               "y": {"datum": 332.2, "type": "quantitative", "scale": {"domain": [270, 370], "nice": false, "zero": false}, "axis": null}}},
            {"mark": {"type": "point", "shape": "M -0.7 -1 L 0 0 L 0.7 -1", "size": 425, "filled": false, "stroke": "#c00000", "strokeWidth": 3, "opacity": 1},
             "encoding": {"x": {"datum": 10.70, "type": "quantitative", "scale": {"domain": [0.172, 21.229], "nice": false, "zero": false}, "axis": null},
               "y": {"datum": 304.8, "type": "quantitative", "scale": {"domain": [270, 370], "nice": false, "zero": false}, "axis": null}}},
            {"mark": {"type": "text", "text": "27.6 mV", "align": "left", "baseline": "alphabetic", "fontSize": 49, "color": "#c00000"},
             "encoding": {"x": {"datum": 10.959, "type": "quantitative", "scale": {"domain": [0.172, 21.229], "nice": false, "zero": false}, "axis": null},
               "y": {"datum": 315.2, "type": "quantitative", "scale": {"domain": [270, 370], "nice": false, "zero": false}, "axis": null}}},
            {"mark": {"type": "text", "text": "Median", "align": "left", "baseline": "alphabetic", "fontSize": 49},
             "encoding": {"x": {"datum": 0.436, "type": "quantitative", "scale": {"domain": [0.172, 21.229], "nice": false, "zero": false}, "axis": null},
               "y": {"datum": 359.3, "type": "quantitative", "scale": {"domain": [270, 370], "nice": false, "zero": false}, "axis": null}}},
            {"mark": {"type": "text", "text": "η", "align": "left", "baseline": "alphabetic", "fontSize": 49, "font": "Liberation Serif", "fontStyle": "italic", "dx": 172},
             "encoding": {"x": {"datum": 0.436, "type": "quantitative", "scale": {"domain": [0.172, 21.229], "nice": false, "zero": false}, "axis": null},
               "y": {"datum": 359.3, "type": "quantitative", "scale": {"domain": [270, 370], "nice": false, "zero": false}, "axis": null}}},
            {"mark": {"type": "text", "text": ": 333.5 mV", "align": "left", "baseline": "alphabetic", "fontSize": 49, "dx": 196},
             "encoding": {"x": {"datum": 0.436, "type": "quantitative", "scale": {"domain": [0.172, 21.229], "nice": false, "zero": false}, "axis": null},
               "y": {"datum": 359.3, "type": "quantitative", "scale": {"domain": [270, 370], "nice": false, "zero": false}, "axis": null}}},
            {"mark": {"type": "text", "text": "Median", "align": "left", "baseline": "alphabetic", "fontSize": 49},
             "encoding": {"x": {"datum": 10.959, "type": "quantitative", "scale": {"domain": [0.172, 21.229], "nice": false, "zero": false}, "axis": null},
               "y": {"datum": 359.3, "type": "quantitative", "scale": {"domain": [270, 370], "nice": false, "zero": false}, "axis": null}}},
            {"mark": {"type": "text", "text": "η", "align": "left", "baseline": "alphabetic", "fontSize": 49, "font": "Liberation Serif", "fontStyle": "italic", "dx": 172},
             "encoding": {"x": {"datum": 10.959, "type": "quantitative", "scale": {"domain": [0.172, 21.229], "nice": false, "zero": false}, "axis": null},
               "y": {"datum": 359.3, "type": "quantitative", "scale": {"domain": [270, 370], "nice": false, "zero": false}, "axis": null}}},
            {"mark": {"type": "text", "text": ": 305.9 mV", "align": "left", "baseline": "alphabetic", "fontSize": 49, "dx": 196},
             "encoding": {"x": {"datum": 10.959, "type": "quantitative", "scale": {"domain": [0.172, 21.229], "nice": false, "zero": false}, "axis": null},
               "y": {"datum": 359.3, "type": "quantitative", "scale": {"domain": [270, 370], "nice": false, "zero": false}, "axis": null}}},
            {"mark": {"type": "text", "text": "Top 10 screened by", "align": "right", "baseline": "alphabetic", "fontSize": 57},
             "encoding": {"x": {"datum": 8.076, "type": "quantitative", "scale": {"domain": [0.172, 21.229], "nice": false, "zero": false}, "axis": null},
               "y": {"datum": 244.95, "type": "quantitative", "scale": {"domain": [270, 370], "nice": false, "zero": false}, "axis": null}}},
            {"mark": {"type": "text", "text": "η", "align": "left", "baseline": "alphabetic", "fontSize": 57, "font": "Liberation Serif", "fontStyle": "italic", "dx": 22},
             "encoding": {"x": {"datum": 8.076, "type": "quantitative", "scale": {"domain": [0.172, 21.229], "nice": false, "zero": false}, "axis": null},
               "y": {"datum": 244.95, "type": "quantitative", "scale": {"domain": [270, 370], "nice": false, "zero": false}, "axis": null}}},
            {"mark": {"type": "text", "text": "Top 10 screened by", "align": "right", "baseline": "alphabetic", "fontSize": 57},
             "encoding": {"x": {"datum": 18.725, "type": "quantitative", "scale": {"domain": [0.172, 21.229], "nice": false, "zero": false}, "axis": null},
               "y": {"datum": 244.95, "type": "quantitative", "scale": {"domain": [270, 370], "nice": false, "zero": false}, "axis": null}}},
            {"mark": {"type": "text", "text": "φ", "align": "left", "baseline": "alphabetic", "fontSize": 57, "font": "Liberation Serif", "fontStyle": "italic", "dx": 29},
             "encoding": {"x": {"datum": 18.725, "type": "quantitative", "scale": {"domain": [0.172, 21.229], "nice": false, "zero": false}, "axis": null},
               "y": {"datum": 244.95, "type": "quantitative", "scale": {"domain": [270, 370], "nice": false, "zero": false}, "axis": null}}},
            {"mark": {"type": "text", "text": "Experimental", "align": "right", "baseline": "alphabetic", "fontSize": 57, "angle": 270, "dx": -16},
             "encoding": {"x": {"datum": -1.3006, "type": "quantitative", "scale": {"domain": [0.172, 21.229], "nice": false, "zero": false}, "axis": null},
               "y": {"datum": 335.17, "type": "quantitative", "scale": {"domain": [270, 370], "nice": false, "zero": false}, "axis": null}}},
            {"mark": {"type": "text", "text": "η", "align": "left", "baseline": "alphabetic", "fontSize": 57, "angle": 270, "font": "Liberation Serif", "fontStyle": "italic"},
             "encoding": {"x": {"datum": -1.3006, "type": "quantitative", "scale": {"domain": [0.172, 21.229], "nice": false, "zero": false}, "axis": null},
               "y": {"datum": 335.17, "type": "quantitative", "scale": {"domain": [270, 370], "nice": false, "zero": false}, "axis": null}}},
            {"mark": {"type": "text", "text": "(mV)", "align": "left", "baseline": "alphabetic", "fontSize": 57, "angle": 270, "dx": 48},
             "encoding": {"x": {"datum": -1.3006, "type": "quantitative", "scale": {"domain": [0.172, 21.229], "nice": false, "zero": false}, "axis": null},
               "y": {"datum": 335.17, "type": "quantitative", "scale": {"domain": [270, 370], "nice": false, "zero": false}, "axis": null}}},
            {"mark": {"type": "text", "text": "a", "align": "left", "baseline": "alphabetic", "fontSize": 66, "fontWeight": "bold"},
             "encoding": {"x": {"datum": -2.031, "type": "quantitative", "scale": {"domain": [0.172, 21.229], "nice": false, "zero": false}, "axis": null},
               "y": {"datum": 374.89, "type": "quantitative", "scale": {"domain": [270, 370], "nice": false, "zero": false}, "axis": null}}}
          ]
        }
      ],
      "resolve": {"scale": {"x": "independent"}, "axis": {"y": "independent"}}
    },
    {
      "width": 296,
      "height": 511,
      "data": {
        "values": [
          {"screen": "eta", "ratio": 50, "label": "50 %"},
          {"screen": "phi", "ratio": 80, "label": "80 %"}
        ]
      },
      "layer": [
        {
          "encoding": {
            "x": {"field": "screen", "type": "nominal", "scale": {"domain": ["eta", "phi"], "paddingInner": 0.4923, "paddingOuter": 0.3846, "align": 0.4},
              "axis": {"labels": false, "ticks": false, "domain": true, "domainColor": "#333333", "domainWidth": 2, "zindex": 1, "title": null}},
            "y": {"field": "ratio", "type": "quantitative", "scale": {"domain": [0, 100], "nice": false},
              "axis": {"orient": "left", "values": [0, 50, 100], "labelExpr": "datum.value == 0 ? '0' : datum.value + ' %'", "labelFontSize": 43, "tickSize": 7, "tickWidth": 2, "tickColor": "#333333", "labelPadding": 13, "domain": false, "title": "Top-10 Screening ratio", "titleFontSize": 57, "titleAnchor": "end", "titlePadding": 10}}
          },
          "layer": [
            {"transform": [{"filter": "datum.screen === 'eta'"}],
             "mark": {"type": "bar", "fill": {"gradient": "linear", "x1": 0, "y1": 0, "x2": 0, "y2": 1, "stops": [{"offset": 0, "color": "#1e88e5"}, {"offset": 0.5, "color": "#6fb1ee"}, {"offset": 1, "color": "#f3f8fe"}]}}},
            {"transform": [{"filter": "datum.screen === 'phi'"}],
             "mark": {"type": "bar", "fill": {"gradient": "linear", "x1": 0, "y1": 0, "x2": 0, "y2": 1, "stops": [{"offset": 0, "color": "#ff9b12"}, {"offset": 0.5, "color": "#ffc063"}, {"offset": 1, "color": "#fff7ed"}]}}},
            {"mark": {"type": "text", "align": "center", "baseline": "alphabetic", "fontSize": 40, "dy": -14},
             "encoding": {"text": {"field": "label"}}}
          ]
        },
        {
          "data": {"values": [{}]},
          "layer": [
            {"mark": {"type": "rule", "color": "#c00000", "strokeWidth": 6, "strokeCap": "round"},
             "encoding": {"x": {"datum": 0.093, "type": "quantitative", "scale": {"domain": [-0.5676, 1.718], "nice": false, "zero": false}, "axis": null}, "x2": {"datum": 0.469},
               "y": {"datum": 62.6, "type": "quantitative", "scale": {"domain": [0, 100], "nice": false}, "axis": null}, "y2": {"datum": 82.3}}},
            {"mark": {"type": "point", "shape": "M -0.5 1 L 0 0 L 0.5 1", "size": 3480, "angle": 26.6, "filled": false, "stroke": "#c00000", "strokeWidth": 6, "strokeJoin": "miter", "strokeCap": "round", "opacity": 1},
             "encoding": {"x": {"datum": 0.4826, "type": "quantitative", "scale": {"domain": [-0.5676, 1.718], "nice": false, "zero": false}, "axis": null},
               "y": {"datum": 83.0, "type": "quantitative", "scale": {"domain": [0, 100], "nice": false}, "axis": null}}},
            {"mark": {"type": "text", "text": "Accuracy", "align": "center", "baseline": "alphabetic", "fontSize": 57},
             "encoding": {"x": {"datum": 0.5135, "type": "quantitative", "scale": {"domain": [-0.5676, 1.718], "nice": false, "zero": false}, "axis": null},
               "y": {"datum": -25.05, "type": "quantitative", "scale": {"domain": [0, 100], "nice": false}, "axis": null}}},
            {"mark": {"type": "text", "text": "b", "align": "left", "baseline": "alphabetic", "fontSize": 66, "fontWeight": "bold"},
             "encoding": {"x": {"datum": -2.5136, "type": "quantitative", "scale": {"domain": [-0.5676, 1.718], "nice": false, "zero": false}, "axis": null},
               "y": {"datum": 104.89, "type": "quantitative", "scale": {"domain": [0, 100], "nice": false}, "axis": null}}}
          ]
        }
      ],
      "resolve": {"scale": {"x": "independent"}, "axis": {"y": "independent"}}
    }
  ]
}
